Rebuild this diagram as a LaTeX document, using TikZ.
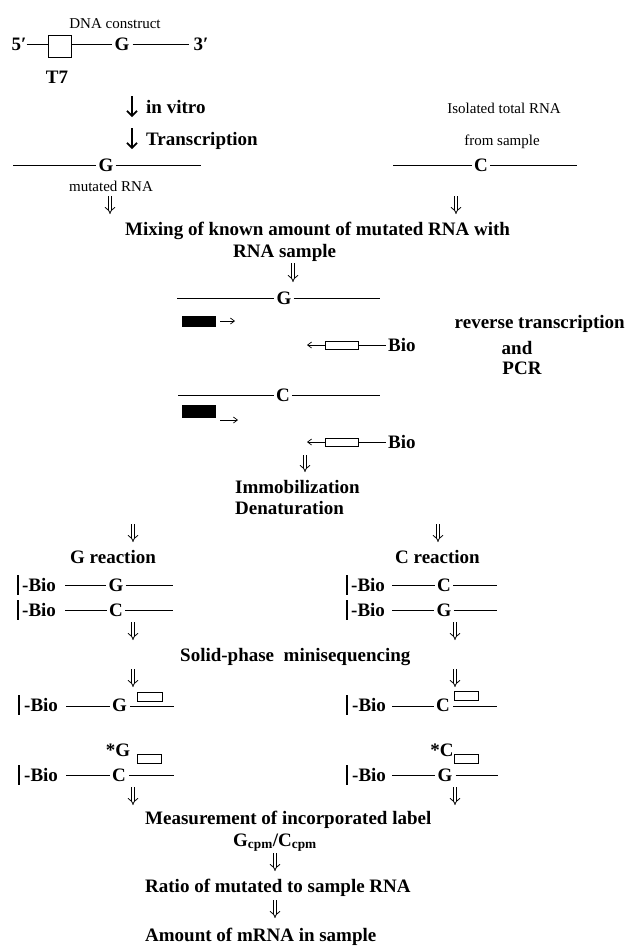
\documentclass[tikz,border=0pt]{standalone}
\usepackage{fontspec}
\setmainfont{Liberation Serif}
\usetikzlibrary{arrows.meta}
\begin{document}
\begin{tikzpicture}[x=1pt,y=-1pt,
  bt/.style={font=\fontsize{19}{21}\selectfont\bfseries, inner sep=0pt},
  st/.style={font=\fontsize{15}{17}\selectfont, inner sep=0pt},
  strand/.style={line width=0.8pt},
  dbl/.style={double, double distance=2.8pt, line width=0.8pt, -{Implies}},
  sarrow/.style={line width=1.7pt, -{Straight Barb[length=5pt,width=10pt]}},
  tarrow/.style={line width=0.7pt, -{Straight Barb[length=4pt,width=6pt]}},
  fillbox/.style={fill=black, draw=black, minimum width=33pt, inner sep=0pt},
  openbox/.style={draw=black, line width=0.9pt, inner sep=0pt},
  wall/.style={line width=1.4pt}
]
\useasboundingbox (0,0) rectangle (626,946);

% ---------- DNA construct ----------
\node[st, anchor=base] (dna) at (115,28) {DNA construct};
\node[bt] (p5) at (19,44) {5′};
\node[openbox, line width=1pt, minimum width=23pt, minimum height=22pt] (t7box) at (59.5,46) {};
\node[bt] (g0) at (122,44) {G};
\node[bt] (p3) at (201,44) {3′};
\node[bt, anchor=base] (t7) at (57,83) {T7};
\draw[strand] (p5.east |- 0,44) -- (t7box.west |- 0,44);
\draw[strand] (t7box.east |- 0,44) -- ([xshift=-2pt]g0.west);
\draw[strand] ([xshift=3pt]g0.east) -- ([xshift=-4pt]p3.west);

% ---------- in vitro transcription ----------
\coordinate (a1s) at (132,96); \coordinate (a1e) at (132,117);
\coordinate (a2s) at (132,128); \coordinate (a2e) at (132,149);
\draw[sarrow] (a1s) -- (a1e);
\draw[sarrow] (a2s) -- (a2e);
\node[bt, anchor=base west] (iv) at (146,113) {in vitro};
\node[bt, anchor=base west] (tr) at (146,145) {Transcription};

% ---------- mutated RNA ----------
\node[bt] (gm) at (106,165) {G};
\coordinate (gmL) at (13,165); \coordinate (gmR) at (201,165);
\draw[strand] (gmL) -- ([xshift=-2pt]gm.west);
\draw[strand] ([xshift=2pt]gm.east) -- (gmR);
\node[st, anchor=base] (mut) at (111,191) {mutated RNA};

% ---------- sample RNA ----------
\node[st, anchor=base] (iso) at (504,113) {Isolated total RNA};
\node[st, anchor=base] (fs) at (502,145) {from sample};
\node[bt] (cs) at (481,165) {C};
\coordinate (csL) at (393,165); \coordinate (csR) at (577,165);
\draw[strand] (csL) -- ([xshift=-2pt]cs.west);
\draw[strand] ([xshift=2pt]cs.east) -- (csR);

\coordinate (d1s) at (110,196); \coordinate (d1e) at (110,214);
\coordinate (d2s) at (456,196); \coordinate (d2e) at (456,214);
\draw[dbl] (d1s) -- (d1e);
\draw[dbl] (d2s) -- (d2e);

% ---------- mixing ----------
\node[bt, anchor=base west] (mix) at (125,235) {Mixing of known amount of mutated RNA with};
\node[bt, anchor=base west] (rs) at (233,257) {RNA sample};
\coordinate (d3s) at (293,263); \coordinate (d3e) at (293,282);
\draw[dbl] (d3s) -- (d3e);

% ---------- RT-PCR, G template ----------
\node[bt] (g3) at (284,298) {G};
\coordinate (g3L) at (177,298); \coordinate (g3R) at (380,298);
\draw[strand] (g3L) -- ([xshift=-2pt]g3.west);
\draw[strand] ([xshift=2pt]g3.east) -- (g3R);
\node[fillbox, minimum height=10pt] (fp1) at (198.5,321) {};
\coordinate (fa1s) at (220,321); \coordinate (fa1e) at (235,321);
\draw[tarrow] (fa1s) -- (fa1e);
\node[openbox, minimum width=33pt, minimum height=8pt] (rp1) at (341.5,345) {};
\coordinate (ra1e) at (307,345);
\draw[tarrow] (rp1.west) -- (ra1e);
\node[bt, anchor=west] (bio1) at (388,345) {Bio};
\draw[strand] (rp1.east) -- ([xshift=-2pt]bio1.west);

\node[bt, anchor=base east] (rt) at (625,328) {reverse transcription};
\node[bt, anchor=base] (and) at (517,354) {and};
\node[bt, anchor=base] (pcr) at (522,374) {PCR};

% ---------- RT-PCR, C template ----------
\node[bt] (c3) at (283,395) {C};
\coordinate (c3L) at (178,395); \coordinate (c3R) at (380,395);
\draw[strand] (c3L) -- ([xshift=-2pt]c3.west);
\draw[strand] ([xshift=2pt]c3.east) -- (c3R);
\node[fillbox, minimum height=12pt] (fp2) at (198.5,411) {};
\coordinate (fa2s) at (220,420); \coordinate (fa2e) at (238,420);
\draw[tarrow] (fa2s) -- (fa2e);
\node[openbox, minimum width=33pt, minimum height=8pt] (rp2) at (341.5,442) {};
\coordinate (ra2e) at (307,442);
\draw[tarrow] (rp2.west) -- (ra2e);
\node[bt, anchor=west] (bio2) at (388,442) {Bio};
\draw[strand] (rp2.east) -- ([xshift=-2pt]bio2.west);

\coordinate (d4s) at (305,455); \coordinate (d4e) at (305,472);
\draw[dbl] (d4s) -- (d4e);

% ---------- immobilization ----------
\node[bt, anchor=base west] (imm) at (235,493) {Immobilization};
\node[bt, anchor=base west] (den) at (235,514) {Denaturation};
\coordinate (d5s) at (133,524); \coordinate (d5e) at (133,542);
\coordinate (d6s) at (438,524); \coordinate (d6e) at (438,542);
\draw[dbl] (d5s) -- (d5e);
\draw[dbl] (d6s) -- (d6e);

\node[bt, anchor=base west] (grx) at (70,563) {G reaction};
\node[bt, anchor=base west] (crx) at (395,563) {C reaction};

% ---------- G reaction rows ----------
\draw[wall] (18,575) -- (18,595);
\node[bt, anchor=west] (lb1) at (22,585) {-Bio};
\node[bt] (lg1) at (116,585) {G};
\coordinate (lg1R) at (173,585);
\draw[strand] (65,585) -- ([xshift=-2pt]lg1.west);
\draw[strand] ([xshift=2pt]lg1.east) -- (lg1R);

\draw[wall] (18,600) -- (18,620);
\node[bt, anchor=west] (lb2) at (22,610) {-Bio};
\node[bt] (lc2) at (116,610) {C};
\coordinate (lc2R) at (173,610);
\draw[strand] (65,610) -- ([xshift=-2pt]lc2.west);
\draw[strand] ([xshift=2pt]lc2.east) -- (lc2R);

% ---------- C reaction rows ----------
\draw[wall] (347,575) -- (347,595);
\node[bt, anchor=west] (rb1) at (351,585) {-Bio};
\node[bt] (rc1) at (444,585) {C};
\coordinate (rc1R) at (497,585);
\draw[strand] (392,585) -- ([xshift=-2pt]rc1.west);
\draw[strand] ([xshift=2pt]rc1.east) -- (rc1R);

\draw[wall] (347,600) -- (347,620);
\node[bt, anchor=west] (rb2) at (351,610) {-Bio};
\node[bt] (rg2) at (444,610) {G};
\coordinate (rg2R) at (497,610);
\draw[strand] (392,610) -- ([xshift=-2pt]rg2.west);
\draw[strand] ([xshift=2pt]rg2.east) -- (rg2R);

\coordinate (d7s) at (133,622); \coordinate (d7e) at (133,640);
\coordinate (d8s) at (455,622); \coordinate (d8e) at (455,640);
\draw[dbl] (d7s) -- (d7e);
\draw[dbl] (d8s) -- (d8e);

\node[bt, anchor=base west] (sp) at (180,661) {Solid-phase\ \ minisequencing};

\coordinate (d9s) at (133,669); \coordinate (d9e) at (133,687);
\coordinate (d10s) at (455,669); \coordinate (d10e) at (455,687);
\draw[dbl] (d9s) -- (d9e);
\draw[dbl] (d10s) -- (d10e);

% ---------- minisequencing, row 1 ----------
\draw[wall] (19,695) -- (19,715);
\node[bt, anchor=west] (mb1) at (24,705) {-Bio};
\node[bt] (mg1) at (119.5,705) {G};
\draw[strand] (66,706) -- ([xshift=-2pt]mg1.west |- 0,706);
\node[openbox, minimum width=25pt, minimum height=9pt] (mp1) at (149.5,697) {};
\coordinate (mg1R) at (174,706);
\draw[strand] ([xshift=3pt]mg1.east |- 0,706) -- (mg1R);

\draw[wall] (347,695) -- (347,715);
\node[bt, anchor=west] (mb2) at (352,705) {-Bio};
\node[bt] (mc2) at (443,705) {C};
\draw[strand] (392,706) -- ([xshift=-2pt]mc2.west |- 0,706);
\node[openbox, minimum width=24pt, minimum height=9pt] (mp2) at (466.5,696) {};
\coordinate (mc2R) at (497,706);
\draw[strand] ([xshift=3pt]mc2.east |- 0,706) -- (mc2R);

% ---------- minisequencing, row 2 ----------
\node[bt] (sg) at (118,750) {*G};
\draw[wall] (19,765) -- (19,785);
\node[bt, anchor=west] (mb3) at (24,775) {-Bio};
\node[bt] (mc3) at (119,775) {C};
\draw[strand] (66,775) -- ([xshift=-2pt]mc3.west);
\node[openbox, minimum width=24pt, minimum height=9pt] (mp3) at (149.5,759) {};
\coordinate (mc3R) at (174,775);
\draw[strand] ([xshift=3pt]mc3.east) -- (mc3R);

\node[bt] (sc) at (442,750) {*C};
\draw[wall] (347,765) -- (347,785);
\node[bt, anchor=west] (mb4) at (352,775) {-Bio};
\node[bt] (mg4) at (445,775) {G};
\draw[strand] (392,775) -- ([xshift=-2pt]mg4.west);
\node[openbox, minimum width=24pt, minimum height=9pt] (mp4) at (466.5,759) {};
\coordinate (mg4R) at (498,775);
\draw[strand] ([xshift=3pt]mg4.east) -- (mg4R);

\coordinate (d11s) at (133,787); \coordinate (d11e) at (133,805);
\coordinate (d12s) at (455,787); \coordinate (d12e) at (455,805);
\draw[dbl] (d11s) -- (d11e);
\draw[dbl] (d12s) -- (d12e);

% ---------- result ----------
\node[bt, anchor=base west] (meas) at (145,824) {Measurement of incorporated label};
\node[bt, anchor=base west] (gc) at (233,846) {G\textsubscript{cpm}/C\textsubscript{cpm}};
\coordinate (d13s) at (275,853); \coordinate (d13e) at (275,871);
\draw[dbl] (d13s) -- (d13e);
\node[bt, anchor=base west] (ratio) at (145,892) {Ratio of mutated to sample RNA};
\coordinate (d14s) at (275,900); \coordinate (d14e) at (275,918);
\draw[dbl] (d14s) -- (d14e);
\node[bt, anchor=base west] (amt) at (145,941) {Amount of mRNA in sample};
\end{tikzpicture}
\end{document}
